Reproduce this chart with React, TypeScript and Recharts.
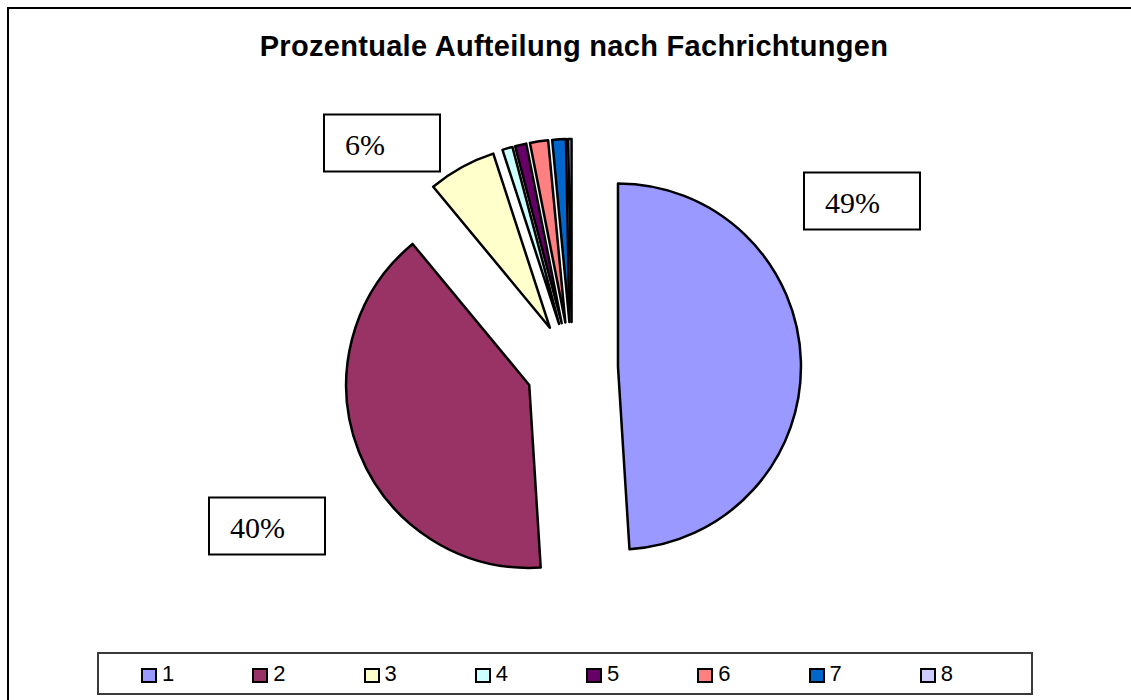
import React from "react";
import { PieChart, Pie, Cell, Sector, Legend } from "recharts";

const categories = ["1", "2", "3", "4", "5", "6", "7", "8"];
const shares = [49, 40, 6, 0.9, 1, 1.6, 1.2, 0.3];
const colors = ["#9999FF", "#993366", "#FFFFCC", "#CCFFFF", "#660066", "#FF8080", "#0066CC", "#CCCCFF"];
const labelledSlices = [0, 1, 2];

const data = categories.map((name, i) => ({ name, value: shares[i] }));

const RAD = Math.PI / 180;
const EXPLODE = 46;
// label boxes, offset of box centre from pie centre
const LABEL_BOX: Record<number, [number, number]> = {
  0: [290, -167],
  1: [-305, 158],
  2: [-190, -225],
};

function ExplodedSector(props: any) {
  const { cx, cy, midAngle, outerRadius, startAngle, endAngle, fill } = props;
  const dx = EXPLODE * Math.cos(-midAngle * RAD);
  const dy = EXPLODE * Math.sin(-midAngle * RAD);
  return (
    <Sector
      cx={cx + dx}
      cy={cy + dy}
      innerRadius={0}
      outerRadius={outerRadius}
      startAngle={startAngle}
      endAngle={endAngle}
      fill={fill}
      stroke="#000"
      strokeWidth={2.5}
      strokeLinejoin="round"
    />
  );
}

function BoxLabel(props: any) {
  const { cx, cy, index, percent } = props;
  if (!labelledSlices.includes(index)) return null;
  const [ox, oy] = LABEL_BOX[index];
  const left = cx + ox - 58;
  const top = cy + oy - 28.5;
  return (
    <g>
      <rect x={left} y={top} width={116} height={57} fill="#fff" stroke="#000" strokeWidth={2} />
      <text
        x={left + 21}
        y={top + 40}
        fontFamily="Liberation Serif, Times New Roman, serif"
        fontSize={30}
        fill="#000"
      >
        {`${Math.round(percent * 100)}%`}
      </text>
    </g>
  );
}

function LegendBox(props: any) {
  const { payload } = props;
  return (
    <div
      style={{
        boxSizing: "border-box",
        width: 936,
        height: 43,
        border: "2px solid #3a3a3a",
        background: "#fff",
        display: "flex",
        alignItems: "center",
        paddingLeft: 42,
        fontFamily: "Liberation Sans, Arial, sans-serif",
        fontSize: 22,
        color: "#000",
      }}
    >
      {(payload || []).map((entry: any) => (
        <div key={entry.value} style={{ width: 117, display: "flex", alignItems: "center" }}>
          <span
            style={{
              boxSizing: "border-box",
              width: 16,
              height: 15,
              background: entry.color,
              border: "2px solid #000",
              marginRight: 5,
              marginTop: 3,
              display: "inline-block",
            }}
          />
          <span style={{ lineHeight: "22px" }}>{entry.value}</span>
        </div>
      ))}
    </div>
  );
}

export default function App() {
  return (
    <div
      style={{
        position: "absolute",
        left: 0,
        top: 0,
        width: 1131,
        height: 700,
        overflow: "hidden",
        background: "#fff",
      }}
    >
      <div
        style={{
          position: "absolute",
          left: 7,
          top: 7,
          width: 1160,
          height: 720,
          border: "2.5px solid #000",
        }}
      />
      <div
        style={{
          position: "absolute",
          left: 0,
          top: 32,
          width: 1148,
          textAlign: "center",
          fontFamily: "Liberation Sans, Arial, sans-serif",
          fontWeight: "bold",
          fontSize: 29,
          lineHeight: "29px",
          letterSpacing: 0.3,
          color: "#000",
        }}
      >
        Prozentuale Aufteilung nach Fachrichtungen
      </div>
      <div style={{ position: "absolute", left: 0, top: 0 }}>
        <PieChart width={1131} height={700} margin={{ top: 0, right: 0, bottom: 0, left: 0 }}>
          <Pie
            data={data}
            dataKey="value"
            nameKey="name"
            cx={572}
            cy={368}
            outerRadius={183}
            startAngle={90}
            endAngle={-270}
            stroke="#000"
            strokeWidth={2.5}
            shape={ExplodedSector}
            inactiveShape={ExplodedSector}
            activeShape={ExplodedSector}
            label={BoxLabel}
            labelLine={false}
            isAnimationActive={false}
          >
            {data.map((d, i) => (
              <Cell key={d.name} fill={colors[i]} />
            ))}
          </Pie>
          <Legend
            content={LegendBox}
            wrapperStyle={{ position: "absolute", left: 97, top: 652, width: 936, height: 43, bottom: "auto" }}
          />
        </PieChart>
      </div>
    </div>
  );
}
